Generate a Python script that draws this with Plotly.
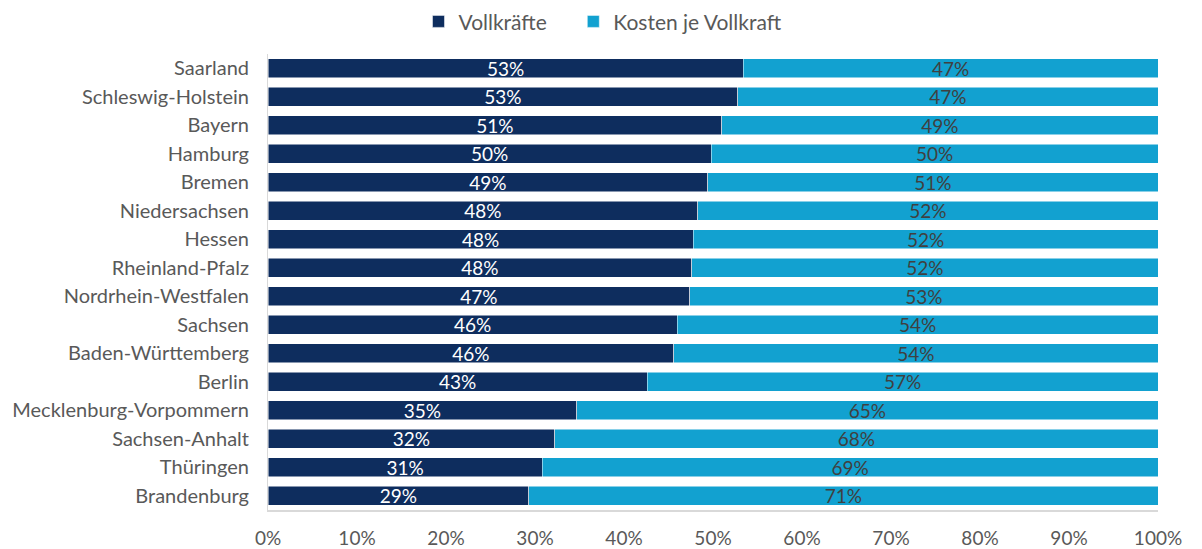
import plotly.graph_objects as go

states = ["Saarland", "Schleswig-Holstein", "Bayern", "Hamburg", "Bremen",
          "Niedersachsen", "Hessen", "Rheinland-Pfalz", "Nordrhein-Westfalen",
          "Sachsen", "Baden-Württemberg", "Berlin", "Mecklenburg-Vorpommern",
          "Sachsen-Anhalt", "Thüringen", "Brandenburg"]
series_names = ["Vollkräfte", "Kosten je Vollkraft"]
vollkraefte = [0.534, 0.528, 0.510, 0.498, 0.494, 0.483, 0.478, 0.476, 0.474,
               0.460, 0.456, 0.426, 0.347, 0.322, 0.308, 0.293]
kosten = [round(1 - v, 3) for v in vollkraefte]

font = "Lato, 'Open Sans', sans-serif"
dark = "#0E2D5E"
light = "#12A1D0"
NB = "\u00a0"

fig = go.Figure()
fig.add_trace(go.Bar(
    y=states, x=vollkraefte, orientation="h", name=series_names[0] + NB * 4,
    marker=dict(color=dark, line=dict(color="white", width=0.5)),
    texttemplate="%{x:.0%}", textposition="inside", constraintext="none",
    insidetextanchor="middle", textangle=0,
    insidetextfont=dict(color="white", size=19, family=font),
))
fig.add_trace(go.Bar(
    y=states, x=kosten, orientation="h", name=series_names[1],
    marker=dict(color=light, line=dict(color="white", width=0.5)),
    texttemplate="%{x:.0%}", textposition="inside", constraintext="none",
    insidetextanchor="middle", textangle=0,
    insidetextfont=dict(color="#404040", size=19, family=font),
))

fig.update_layout(
    barmode="stack", bargap=0.33,
    width=1202, height=549,
    margin=dict(l=260, r=52, t=46, b=47, autoexpand=False),
    paper_bgcolor="white", plot_bgcolor="white",
    font=dict(family=font, size=18, color="#595959"),
    legend=dict(orientation="h", x=0.495, xanchor="center", xref="container",
                y=0.975, yanchor="middle", yref="container",
                font=dict(size=21, color="#595959"),
                traceorder="normal", itemwidth=30),
    xaxis=dict(range=[0, 1], tickvals=[i / 10 for i in range(11)],
               tickformat=".0%", showgrid=False, zeroline=False,
               showline=True, linecolor="#D9D9D9", linewidth=2,
               tickfont=dict(size=19, color="#595959"), ticks="", ticklabelstandoff=10),
    yaxis=dict(autorange="reversed", showgrid=False, zeroline=False,
               showline=True, linecolor="#D9D9D9", linewidth=1,
               ticks="", tickfont=dict(size=20, color="#595959"), ticklabelstandoff=14),
)

fig.write_html("out.html")
